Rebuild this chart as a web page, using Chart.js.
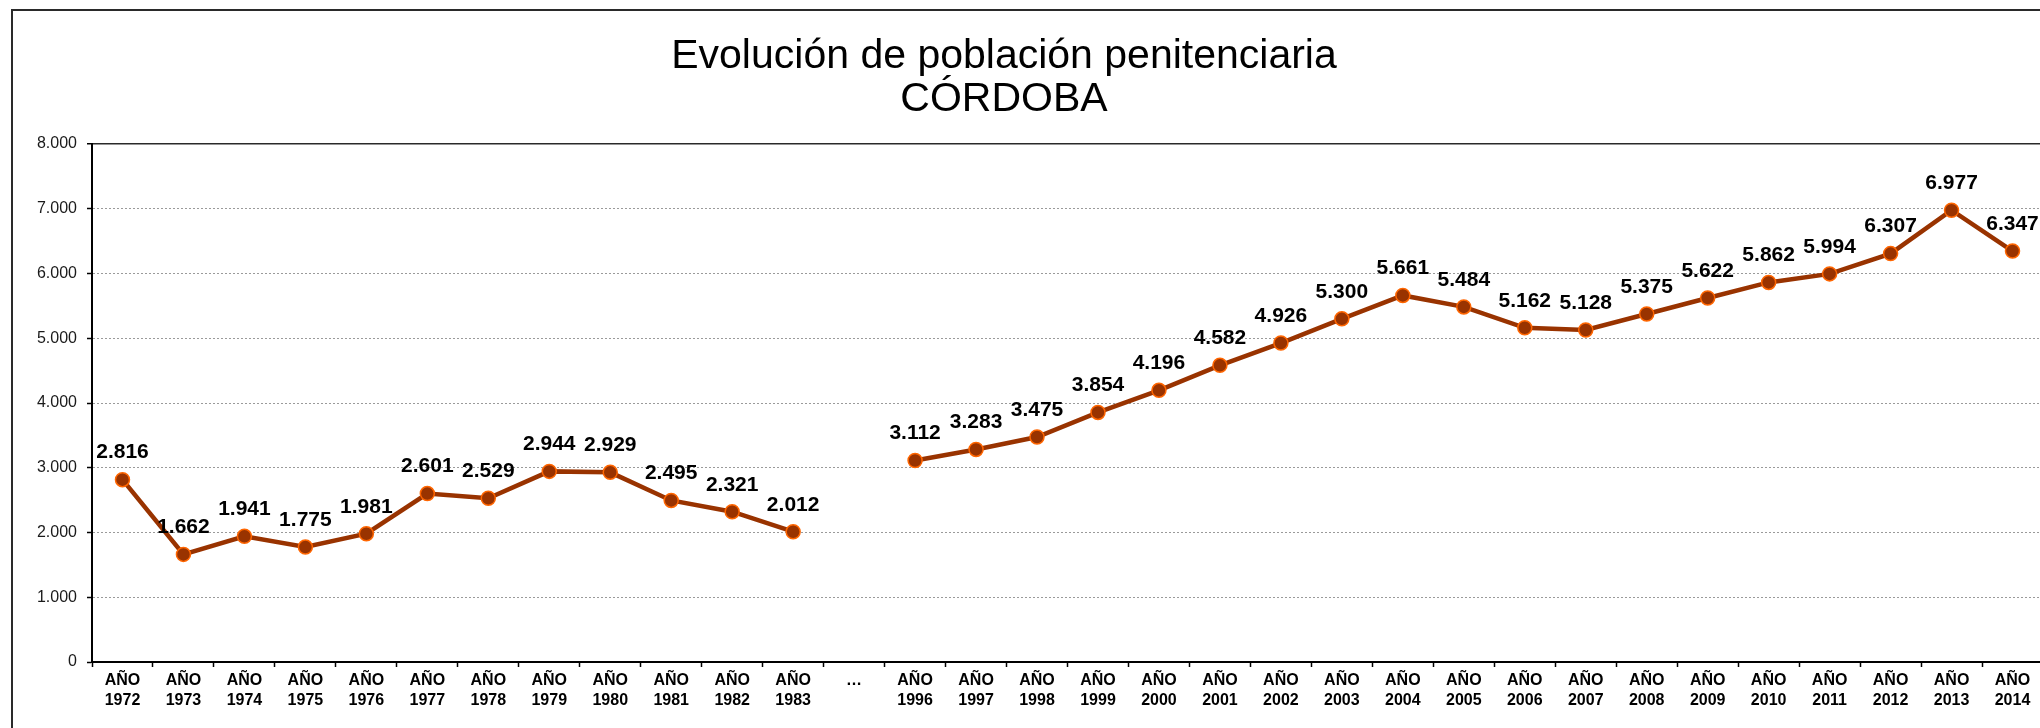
<!DOCTYPE html>
<html lang="es">
<head>
<meta charset="utf-8">
<title>Evolución de población penitenciaria - Córdoba</title>
<script src="https://cdn.jsdelivr.net/npm/chart.js@4/dist/chart.umd.min.js"></script>
<style>
  html, body { margin: 0; padding: 0; background: #fff; overflow: hidden; }
  #marco {
    position: absolute; left: 11px; top: 9px;
    width: 2200px; height: 900px;
    border: 2px solid #2a2a2a;
  }
  #graficoCordoba { position: absolute; left: 0; top: 0; }
</style>
</head>
<body>
<div id="marco"></div>
<canvas id="graficoCordoba" width="2060" height="728"></canvas>

<script>
// años (con el salto 1984-1995 marcado con "…")
var anios = ['1972', '1973', '1974', '1975', '1976', '1977', '1978', '1979', '1980', '1981', '1982', '1983',
    '…',
    '1996', '1997', '1998', '1999', '2000', '2001', '2002', '2003', '2004', '2005', '2006', '2007',
    '2008', '2009', '2010', '2011', '2012', '2013', '2014'];

// internos por año
var poblacion = [2816, 1662, 1941, 1775, 1981, 2601, 2529, 2944, 2929, 2495, 2321, 2012,
    null,
    3112, 3283, 3475, 3854, 4196, 4582, 4926, 5300, 5661, 5484, 5162, 5128,
    5375, 5622, 5862, 5994, 6307, 6977, 6347];

var titulo = ['Evolución de población penitenciaria', 'CÓRDOBA'];

var ejeMin = 0;
var ejeMax = 8000;
var ejePaso = 1000;

function miles(v) {
    return String(v).replace(/\B(?=(\d{3})+(?!\d))/g, '.');
}

var etiquetas = anios.map(function(a) {
    return a === '…' ? a : ['AÑO', a];
});

// titulo en dos lineas
var pluginTitulo = {
    id: 'tituloGrafico',
    afterDraw: function(chart) {
        var ctx = chart.ctx;
        ctx.save();
        ctx.fillStyle = '#000';
        ctx.font = "41px 'Liberation Sans', Arial, sans-serif";
        ctx.textAlign = 'center';
        ctx.textBaseline = 'alphabetic';
        ctx.fillText(titulo[0], 1004, 68);
        ctx.fillText(titulo[1], 1004, 111);
        ctx.restore();
    }
};

// valor encima de cada punto
var pluginValores = {
    id: 'valoresPuntos',
    afterDatasetsDraw: function(chart) {
        var ctx = chart.ctx;
        var meta = chart.getDatasetMeta(0);
        var datos = chart.data.datasets[0].data;
        ctx.save();
        ctx.fillStyle = '#000';
        ctx.font = "bold 21px 'Liberation Sans', Arial, sans-serif";
        ctx.textAlign = 'center';
        ctx.textBaseline = 'middle';
        meta.data.forEach(function(p, i) {
            if (datos[i] === null) return;
            ctx.fillText(miles(datos[i]), p.x, p.y - 27);
        });
        ctx.restore();
    }
};

Chart.defaults.font.family = "'Liberation Sans', Arial, sans-serif";
Chart.defaults.color = '#000';

var graficoCordoba = new Chart(document.getElementById('graficoCordoba'), {
    type: 'line',
    data: {
        labels: etiquetas,
        datasets: [{
            label: 'Población penitenciaria',
            data: poblacion,
            borderColor: '#993300',
            borderWidth: 4.5,
            pointRadius: 7,
            pointHoverRadius: 7,
            pointBackgroundColor: '#993300',
            pointBorderColor: '#ff6600',
            pointBorderWidth: 1.5,
            spanGaps: false,
            tension: 0
        }]
    },
    options: {
        responsive: false,
        animation: false,
        events: [],
        layout: {
            padding: { top: 144, right: 17, bottom: 0, left: 0 }
        },
        plugins: {
            legend: { display: false },
            title: { display: false },
            tooltip: { enabled: false }
        },
        scales: {
            x: {
                type: 'category',
                offset: true,
                grid: {
                    display: true,
                    drawOnChartArea: false,
                    drawTicks: true,
                    tickLength: 5,
                    tickColor: '#000',
                    tickWidth: 1.5,
                    offset: true
                },
                border: { display: true, color: '#000', width: 2 },
                ticks: {
                    autoSkip: false,
                    maxRotation: 0,
                    padding: 4,
                    color: '#000',
                    font: { size: 16, weight: 'bold', lineHeight: 1.25 }
                },
                afterFit: function(scale) { scale.height = 66; }
            },
            y: {
                min: ejeMin,
                max: ejeMax,
                ticks: {
                    stepSize: ejePaso,
                    padding: 10,
                    color: '#1a1a1a',
                    font: { size: 16 },
                    callback: function(v) { return miles(v); }
                },
                grid: {
                    color: function(c) { return c.tick && c.tick.value === ejeMax ? '#2a2a2a' : '#9a9a9a'; },
                    lineWidth: function(c) { return c.tick && c.tick.value === ejeMax ? 1.5 : 1; },
                    tickLength: 5,
                    tickColor: '#000',
                    tickWidth: 1.5,
                    tickBorderDash: []
                },
                border: {
                    display: true,
                    color: '#000',
                    width: 2,
                    dash: function(c) { return c.tick && c.tick.value === ejeMax ? [] : [2, 2]; }
                },
                afterFit: function(scale) { scale.width = 92; }
            }
        }
    },
    plugins: [pluginTitulo, pluginValores]
});
</script>
</body>
</html>
